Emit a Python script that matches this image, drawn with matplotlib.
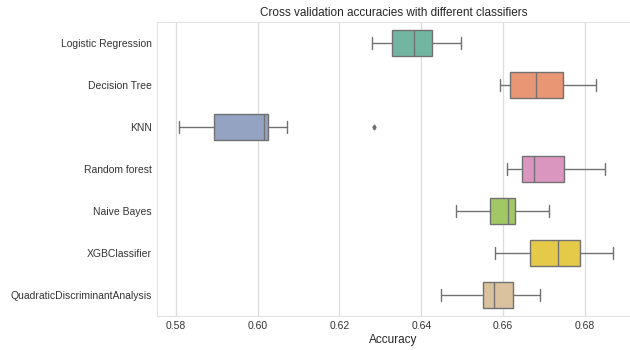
import matplotlib
matplotlib.use('Agg')
import matplotlib.pyplot as plt
import seaborn as sns

# Cross-validation accuracy summaries
classifiers = ['Logistic Regression', 'Decision Tree', 'KNN', 'Random forest',
               'Naive Bayes', 'XGBClassifier', 'QuadraticDiscriminantAnalysis']
whislo = [0.6280, 0.6592, 0.5807, 0.6610, 0.6485, 0.6580, 0.6448]
q1 = [0.6329, 0.6618, 0.5894, 0.6646, 0.6568, 0.6665, 0.6550]
med = [0.6383, 0.6680, 0.6016, 0.6676, 0.6611, 0.6734, 0.6578]
q3 = [0.6427, 0.6746, 0.6025, 0.6749, 0.6628, 0.6788, 0.6624]
whishi = [0.6496, 0.6827, 0.6071, 0.6848, 0.6713, 0.6869, 0.6690]
fliers = [[], [], [0.6285], [], [], [], []]

sns.set_style('whitegrid')
plt.rcParams['font.family'] = ['Liberation Sans', 'DejaVu Sans']

stats = []
for i, name in enumerate(classifiers):
    stats.append(dict(label=name, whislo=whislo[i], q1=q1[i], med=med[i],
                      q3=q3[i], whishi=whishi[i], fliers=fliers[i]))

colors = sns.color_palette('Set2', len(classifiers), desat=0.75)
gray = '#717171'

fig = plt.figure(figsize=(6.3, 3.5), dpi=100)
ax = fig.add_axes([0.249, 0.097, 0.751, 0.84])

bp = ax.bxp(stats, positions=range(len(classifiers)), vert=False, widths=0.6,
            patch_artist=True,
            boxprops=dict(edgecolor=gray, linewidth=1.0),
            medianprops=dict(color=gray, linewidth=1.0),
            whiskerprops=dict(color=gray, linewidth=1.0),
            capprops=dict(color=gray, linewidth=1.0),
            flierprops=dict(marker='d', markerfacecolor=gray, markeredgecolor=gray,
                            markersize=2.5))
for patch, c in zip(bp['boxes'], colors):
    patch.set_facecolor(c)

ax.set_yticks(range(len(classifiers)))
ax.set_yticklabels(classifiers)
ax.set_ylim(6.5, -0.5)
ax.set_xlim(0.5754, 0.6910)
ax.set_xticks([0.58, 0.60, 0.62, 0.64, 0.66, 0.68])
ax.set_xticklabels(['0.58', '0.60', '0.62', '0.64', '0.66', '0.68'])
ax.tick_params(labelsize=7.5, colors='#333333', length=0)
ax.grid(axis='y', visible=False)
ax.grid(axis='x', color='#dcdcdc', linewidth=0.9)
ax.set_xlabel('Accuracy', fontsize=8.5, color='#262626', labelpad=2)
ax.set_title('Cross validation accuracies with different classifiers',
             fontsize=8.5, color='#262626', pad=4)
for s in ax.spines.values():
    s.set_color('#e2e2e2')
ax.spines['right'].set_visible(False)

fig.savefig('out.png', dpi=100)
